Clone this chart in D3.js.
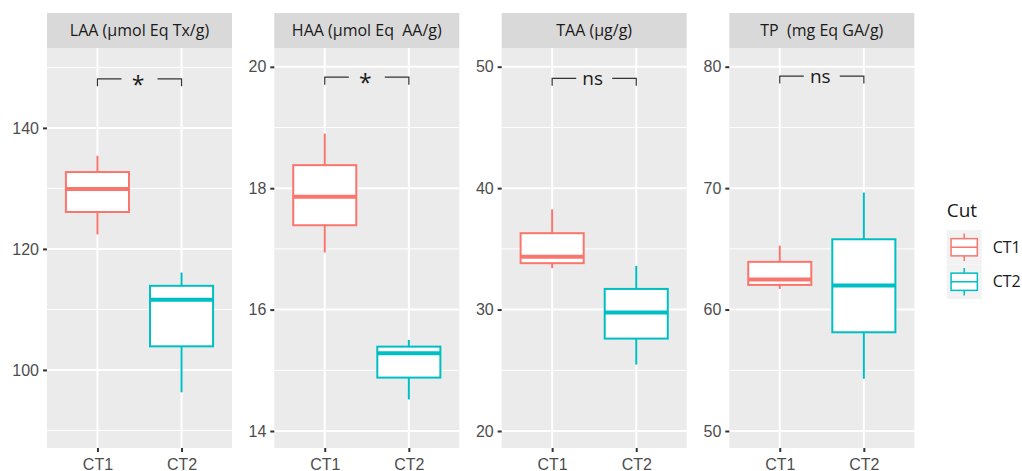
<!DOCTYPE html>
<html>
<head>
<meta charset="utf-8">
<script src="https://cdn.jsdelivr.net/npm/d3@7"></script>
<style>
  body { margin: 0; background: #fff; }
  svg { display: block; font-family: "Open Sans", sans-serif; }
</style>
</head>
<body>
<script>
// chart data
const panels = ['LAA (μmol Eq Tx/g)', 'HAA (μmol Eq  AA/g)', 'TAA (μg/g)', 'TP  (mg Eq GA/g)'];
const groups = ['CT1', 'CT2'];
// [lower whisker, q1, median, q3, upper whisker]
const ct1Stats = [
  [122.4, 126.1, 129.9, 132.7, 135.4],
  [16.94, 17.39, 17.86, 18.38, 18.90],
  [33.41, 33.82, 34.34, 36.29, 38.25],
  [61.70, 62.03, 62.47, 63.93, 65.27]
];
const ct2Stats = [
  [96.3, 103.9, 111.6, 113.9, 116.1],
  [14.52, 14.88, 15.28, 15.39, 15.50],
  [25.47, 27.61, 29.75, 31.70, 33.60],
  [54.3, 58.13, 61.98, 65.79, 69.64]
];
const yLimits = [[87.1, 153.2], [13.72, 20.31], [18.6, 51.54], [48.6, 81.54]];
const yTicks = [[100, 120, 140], [14, 16, 18, 20], [20, 30, 40, 50], [50, 60, 70, 80]];
const yMinor = [[90, 110, 130, 150], [15, 17, 19], [25, 35, 45], [55, 65, 75]];
const signifLabels = ['*', '*', 'ns', 'ns'];
const bracketY = [148.1, 19.83, 49.04, 79.23];

const colors = ['#F8766D', '#00BFC4'];
const color = d3.scaleOrdinal(groups, colors);

const W = 1022, H = 471;
const panelLeft = [47, 274.3, 501.7, 729.3];
const panelWidth = 185;
const stripTop = 13, panelTop = 48, panelBottom = 448;

const svg = d3.select('body').append('svg')
  .attr('width', W)
  .attr('height', H);

panels.forEach((title, i) => {
  const left = panelLeft[i];
  const x = d3.scalePoint()
    .domain(groups)
    .range([left, left + panelWidth])
    .padding(0.6);
  const y = d3.scaleLinear()
    .domain(yLimits[i])
    .range([panelBottom, panelTop]);
  const boxW = x.step() * 0.75;

  const g = svg.append('g').attr('class', 'panel');

  // strip
  g.append('rect')
    .attr('x', left).attr('y', stripTop)
    .attr('width', panelWidth).attr('height', panelTop - stripTop)
    .attr('fill', '#D9D9D9');
  g.append('text')
    .attr('x', left + panelWidth / 2)
    .attr('y', (stripTop + panelTop) / 2)
    .attr('dy', '0.35em')
    .attr('text-anchor', 'middle')
    .attr('fill', '#1A1A1A')
    .style('font-size', '16px')
    .style('white-space', 'pre')
    .text(title);

  // panel background
  g.append('rect')
    .attr('x', left).attr('y', panelTop)
    .attr('width', panelWidth).attr('height', panelBottom - panelTop)
    .attr('fill', '#EBEBEB');

  // grid
  g.selectAll('.minor')
    .data(yMinor[i])
    .enter().append('line')
    .attr('x1', left).attr('x2', left + panelWidth)
    .attr('y1', d => y(d)).attr('y2', d => y(d))
    .attr('stroke', '#fff').attr('stroke-width', 1);
  g.selectAll('.major')
    .data(yTicks[i])
    .enter().append('line')
    .attr('x1', left).attr('x2', left + panelWidth)
    .attr('y1', d => y(d)).attr('y2', d => y(d))
    .attr('stroke', '#fff').attr('stroke-width', 2);
  g.selectAll('.vmajor')
    .data(groups)
    .enter().append('line')
    .attr('x1', d => x(d)).attr('x2', d => x(d))
    .attr('y1', panelTop).attr('y2', panelBottom)
    .attr('stroke', '#fff').attr('stroke-width', 2);

  // axes
  const ya = g.append('g')
    .attr('transform', `translate(${left},0)`)
    .call(d3.axisLeft(y).tickValues(yTicks[i]).tickFormat(d3.format('d')).tickSize(4).tickPadding(4));
  const xa = g.append('g')
    .attr('transform', `translate(0,${panelBottom})`)
    .call(d3.axisBottom(x).tickSize(4).tickPadding(7));
  [ya, xa].forEach(a => {
    a.select('.domain').remove();
    a.selectAll('line').attr('stroke', '#333').attr('stroke-width', 2);
    a.selectAll('text').attr('fill', '#4D4D4D').style('font-size', '16px').attr('font-family', null);
  });

  // boxes
  const stats = [ct1Stats[i], ct2Stats[i]];
  const boxes = g.selectAll('.box')
    .data(groups.map((k, j) => ({ key: k, s: stats[j] })))
    .enter().append('g')
    .attr('class', 'box');
  boxes.append('line')
    .attr('x1', d => x(d.key)).attr('x2', d => x(d.key))
    .attr('y1', d => y(d.s[0])).attr('y2', d => y(d.s[1]))
    .attr('stroke', d => color(d.key)).attr('stroke-width', 2);
  boxes.append('line')
    .attr('x1', d => x(d.key)).attr('x2', d => x(d.key))
    .attr('y1', d => y(d.s[3])).attr('y2', d => y(d.s[4]))
    .attr('stroke', d => color(d.key)).attr('stroke-width', 2);
  boxes.append('rect')
    .attr('x', d => x(d.key) - boxW / 2)
    .attr('y', d => y(d.s[3]))
    .attr('width', boxW)
    .attr('height', d => y(d.s[1]) - y(d.s[3]))
    .attr('fill', '#fff')
    .attr('stroke', d => color(d.key)).attr('stroke-width', 2);
  boxes.append('line')
    .attr('x1', d => x(d.key) - boxW / 2).attr('x2', d => x(d.key) + boxW / 2)
    .attr('y1', d => y(d.s[2])).attr('y2', d => y(d.s[2]))
    .attr('stroke', d => color(d.key)).attr('stroke-width', 4);

  // significance bracket
  const bx1 = x(groups[0]), bx2 = x(groups[1]);
  const by = y(bracketY[i]);
  const mid = (bx1 + bx2) / 2;
  const gap = 18;
  g.append('path')
    .attr('d', `M${bx1},${by + 7.5}V${by}H${mid - gap}`)
    .attr('fill', 'none').attr('stroke', '#333').attr('stroke-width', 1.2);
  g.append('path')
    .attr('d', `M${mid + gap},${by}H${bx2}V${by + 7.5}`)
    .attr('fill', 'none').attr('stroke', '#333').attr('stroke-width', 1.2);
  const isStar = signifLabels[i] === '*';
  g.append('text')
    .attr('x', mid - 1.5)
    .attr('y', isStar ? by + 14 : by + 7)
    .attr('text-anchor', 'middle')
    .attr('fill', '#1A1A1A')
    .style('font-size', isStar ? '23px' : '19px')
    .text(signifLabels[i]);
});

// legend
const legend = svg.append('g').attr('transform', 'translate(946.7,230)');
legend.append('text')
  .attr('x', 0).attr('y', -13.3)
  .attr('fill', '#1A1A1A')
  .style('font-size', '19px')
  .text('Cut');
const keyW = 35, keyH = 34.5;
const keys = legend.selectAll('.key')
  .data(groups)
  .enter().append('g')
  .attr('transform', (d, j) => `translate(0,${j * keyH})`);
keys.append('rect')
  .attr('width', keyW).attr('height', keyH)
  .attr('fill', '#F2F2F2');
keys.append('line')
  .attr('x1', keyW / 2).attr('x2', keyW / 2)
  .attr('y1', keyH * 0.1).attr('y2', keyH * 0.9)
  .attr('stroke', d => color(d)).attr('stroke-width', 1.5);
keys.append('rect')
  .attr('x', keyW * 0.125).attr('y', keyH * 0.25)
  .attr('width', keyW * 0.75).attr('height', keyH * 0.5)
  .attr('fill', '#fff')
  .attr('stroke', d => color(d)).attr('stroke-width', 1.5);
keys.append('line')
  .attr('x1', keyW * 0.125).attr('x2', keyW * 0.875)
  .attr('y1', keyH / 2).attr('y2', keyH / 2)
  .attr('stroke', d => color(d)).attr('stroke-width', 1.5);
keys.append('text')
  .attr('x', keyW + 11)
  .attr('y', keyH / 2)
  .attr('dy', '0.35em')
  .attr('fill', '#1A1A1A')
  .style('font-size', '16px')
  .text(d => d);
</script>
</body>
</html>
